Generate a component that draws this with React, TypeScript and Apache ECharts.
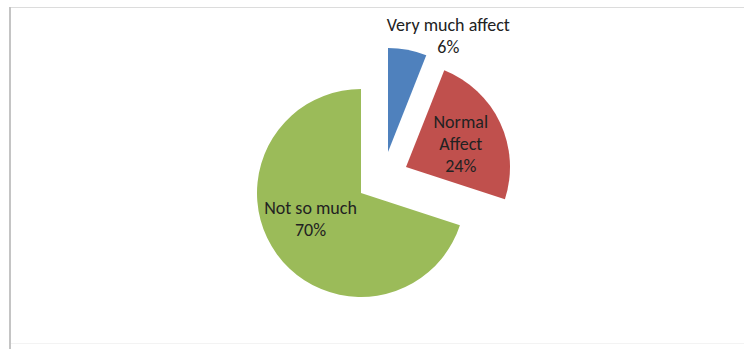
import React, { useEffect, useRef } from "react";
import * as echarts from "echarts";

// Survey answers and their shares (percent)
const categories = ["Very much affect", "Normal Affect", "Not so much"];
const shares = [6, 24, 70];
const sliceColors = ["#4F81BD", "#C0504D", "#9BBB59"];

// Each slice sits in its own pie layer so it can be pulled out on its own
const sliceCenters: [number, number][] = [
  [388, 152],
  [406, 167],
  [361, 193],
];
// Label nudges relative to the default inside position
const labelShifts: [number, number][] = [
  [50, -62],
  [5, 0],
  [-6, -6],
];

const FONT = 'Carlito, "Liberation Sans Narrow", Lato, sans-serif';

export default function App() {
  const ref = useRef<HTMLDivElement>(null);

  useEffect(() => {
    if (!ref.current) return;
    const chart = echarts.init(ref.current, null, { renderer: "svg" });

    const series = categories.map((_, visible) => ({
      type: "pie",
      center: sliceCenters[visible],
      radius: [0, 104],
      startAngle: 90,
      clockwise: true,
      silent: true,
      z: visible === 2 ? 1 : 2,
      labelLine: { show: false },
      labelLayout: { dx: labelShifts[visible][0], dy: labelShifts[visible][1] },
      data: categories.map((name, i) => ({
        name,
        value: shares[i],
        itemStyle: {
          color: i === visible ? sliceColors[i] : "transparent",
          borderWidth: 0,
        },
        label: {
          show: i === visible,
          position: "inside",
          color: "#222222",
          fontFamily: FONT,
          fontSize: 18,
          lineHeight: 22,
          align: "center",
          formatter: (p: any) =>
            (i === 1 ? p.name.replace(" ", "\n") : p.name) + "\n" + p.value + "%",
        },
      })),
    }));

    chart.setOption({
      animation: false,
      backgroundColor: "#ffffff",
      graphic: [
        {
          type: "line",
          shape: { x1: 9, y1: 7.5, x2: 744, y2: 7.5 },
          style: { stroke: "#dcdcdc", lineWidth: 1 },
        },
        {
          type: "line",
          shape: { x1: 10, y1: 7, x2: 10, y2: 349 },
          style: { stroke: "#c4c4c4", lineWidth: 2 },
        },
        {
          type: "line",
          shape: { x1: 11, y1: 343.5, x2: 744, y2: 343.5 },
          style: { stroke: "#f3f3f3", lineWidth: 1 },
        },
      ],
      series,
    });

    return () => chart.dispose();
  }, []);

  return (
    <div
      ref={ref}
      style={{ position: "absolute", left: 0, top: 0, width: 744, height: 349 }}
    />
  );
}
